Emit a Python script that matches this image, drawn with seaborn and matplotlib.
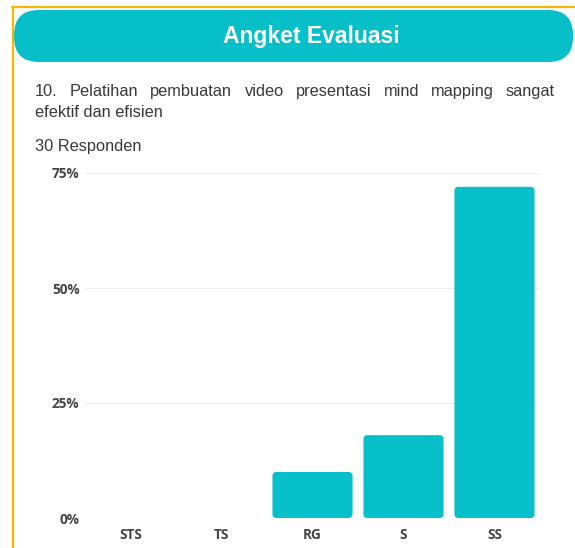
import matplotlib
matplotlib.use("Agg")
import matplotlib.pyplot as plt
import seaborn as sns
import pandas as pd
from matplotlib.patches import FancyBboxPatch
from matplotlib.lines import Line2D

# data
categories = ["STS", "TS", "RG", "S", "SS"]
percent = [0, 0, 10, 18, 72]
yticks = [0, 25, 50, 75]
ytick_labels = ["0%", "25%", "50%", "75%"]

title = "Angket Evaluasi"
question = "10. Pelatihan pembuatan video presentasi mind mapping sangat"
question2 = "efektif dan efisien"
respondents = "30 Responden"

teal = "#06BFC8"
W, H = 575, 548

sns.set_style("white")
plt.rcParams["font.family"] = ["Liberation Sans", "DejaVu Sans"]

fig = plt.figure(figsize=(W / 100, H / 100), dpi=100)


def fx(x):
    return x / W


def fy(y):
    return 1 - y / H


# yellow frame (top and left)
fig.add_artist(Line2D([fx(12), fx(575)], [fy(7), fy(7)], color="#F7B900", lw=1.6))
fig.add_artist(Line2D([fx(12.5), fx(12.5)], [fy(7), fy(548)], color="#F7B900", lw=1.6))

# header banner (pixel coords, origin bottom-left)
fig.add_artist(FancyBboxPatch((14, H - 62), 573 - 14, 52,
                              boxstyle="round,pad=0,rounding_size=25",
                              transform=None, fc=teal, ec="none"))
fig.text(fx(311), fy(36), title, color="white", fontsize=16.5, fontweight="bold",
         ha="center", va="center")

# justified question line
renderer = fig.canvas.get_renderer()
words = question.split(" ")
arts = [fig.text(0, 0, w, fontsize=11.8, color="#383838") for w in words]
widths = [a.get_window_extent(renderer).width for a in arts]
x0, x1 = 35, 555
gap = (x1 - x0 - sum(widths)) / (len(words) - 1)
xpos = x0
for a, w in zip(arts, widths):
    a.set_position((fx(xpos), fy(96)))
    xpos += w + gap
fig.text(fx(35), fy(117), question2, fontsize=11.8, color="#383838")
fig.text(fx(35), fy(151), respondents, fontsize=11.8, color="#383838")

# bar chart
ax = fig.add_axes([fx(85), fy(518), fx(540) - fx(85), fy(173) - fy(518)])
df = pd.DataFrame({"kategori": categories, "persen": percent})
sns.barplot(data=df, x="kategori", y="persen", color=teal, saturation=1, width=0.88, ax=ax)
ax.set_ylim(0, 75)
ax.set_xlim(-0.5, len(categories) - 0.5)

# rounded bar tops
px_x = 1 / 91.0
aspect = (75 / 345.0) / px_x
for p in list(ax.patches):
    x, y = p.get_x(), p.get_y()
    w, h = p.get_width(), p.get_height()
    if h <= 0:
        continue
    p.remove()
    ax.add_patch(FancyBboxPatch((x, y), w, h, boxstyle="round,pad=0,rounding_size=%f" % (4 * px_x),
                                mutation_aspect=aspect, fc=teal, ec="none"))

ax.set_yticks(yticks)
ax.set_yticklabels(ytick_labels)
ax.set_xlabel("")
ax.set_ylabel("")
ax.grid(axis="y", color="#EDEDED", lw=0.8)
ax.set_axisbelow(True)
sns.despine(ax=ax, left=True, bottom=True, top=True, right=True)
ax.tick_params(length=0)
for lab in ax.get_xticklabels() + ax.get_yticklabels():
    lab.set_fontfamily("Open Sans")
    lab.set_fontweight("bold")
    lab.set_fontsize(9.8)
    lab.set_color("#444444")
ax.tick_params(axis="y", pad=4)
ax.tick_params(axis="x", pad=7)

fig.savefig("out.png", dpi=100)
